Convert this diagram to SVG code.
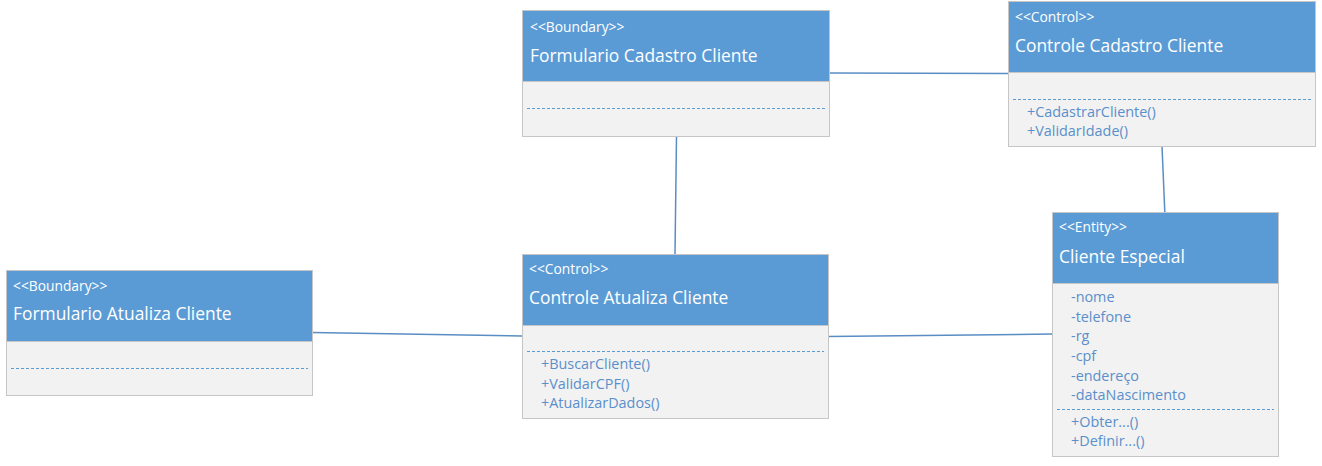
<svg xmlns="http://www.w3.org/2000/svg" width="1322" height="466" viewBox="0 0 1322 466">
<style>
.body{fill:#F2F2F2;stroke:#C6C6C6;stroke-width:1}
.head{fill:#5B9BD5;stroke:#C6C6C6;stroke-width:1}
.dash{stroke:#5B9BD5;stroke-width:1;stroke-dasharray:3 2;fill:none}
.st{font-family:"Open Sans","Noto Sans",sans-serif;font-size:13.8px;fill:#FFFFFF}
.ti{font-family:"Open Sans","Noto Sans",sans-serif;font-size:17.4px;fill:#FFFFFF}
.it{font-family:"Open Sans","Noto Sans",sans-serif;font-size:14.4px;fill:#5A8FCB}
.conn line{stroke:#5A8DC4;stroke-width:1.5;fill:none}
</style>
<rect width="1322" height="466" fill="#FFFFFF"/>
<g class="conn" id="connectors">
<line x1="829" y1="73" x2="1008" y2="73.5"/>
<line x1="676.5" y1="136" x2="675" y2="254"/>
<line x1="1162" y1="146" x2="1164.8" y2="212"/>
<line x1="312" y1="332.5" x2="522" y2="336"/>
<line x1="828" y1="336.5" x2="1052" y2="334"/>
</g>
<g id="formulario-cadastro">
<rect class="body" x="522.5" y="10.5" width="307" height="126"/>
<rect class="head" x="522.5" y="10.5" width="307" height="71"/>
<line class="dash" x1="527" y1="108.5" x2="825" y2="108.5"/>
<text class="st" x="530" y="32">&lt;&lt;Boundary&gt;&gt;</text>
<text class="ti" x="530" y="62">Formulario Cadastro Cliente</text>
</g>
<g id="controle-cadastro">
<rect class="body" x="1008.5" y="1.5" width="307" height="145"/>
<rect class="head" x="1008.5" y="1.5" width="307" height="71"/>
<line class="dash" x1="1013" y1="99.5" x2="1311" y2="99.5"/>
<text class="st" x="1015" y="22">&lt;&lt;Control&gt;&gt;</text>
<text class="ti" x="1015" y="52">Controle Cadastro Cliente</text>
<text class="it" x="1027" y="117">+CadastrarCliente()</text>
<text class="it" x="1027" y="136">+ValidarIdade()</text>
</g>
<g id="cliente-especial">
<rect class="body" x="1052.5" y="212.5" width="226" height="244"/>
<rect class="head" x="1052.5" y="212.5" width="226" height="71"/>
<line class="dash" x1="1057" y1="409.5" x2="1274" y2="409.5"/>
<text class="st" x="1059" y="232">&lt;&lt;Entity&gt;&gt;</text>
<text class="ti" x="1059" y="263">Cliente Especial</text>
<text class="it" x="1071" y="302">-nome</text>
<text class="it" x="1071" y="322">-telefone</text>
<text class="it" x="1071" y="341">-rg</text>
<text class="it" x="1071" y="361">-cpf</text>
<text class="it" x="1071" y="381">-endereço</text>
<text class="it" x="1071" y="400">-dataNascimento</text>
<text class="it" x="1071" y="427">+Obter...()</text>
<text class="it" x="1071" y="446">+Definir...()</text>
</g>
<g id="controle-atualiza">
<rect class="body" x="522.5" y="254.5" width="306" height="164"/>
<rect class="head" x="522.5" y="254.5" width="306" height="71"/>
<line class="dash" x1="527" y1="351.5" x2="824" y2="351.5"/>
<text class="st" x="529" y="274">&lt;&lt;Control&gt;&gt;</text>
<text class="ti" x="529" y="304">Controle Atualiza Cliente</text>
<text class="it" x="541" y="369">+BuscarCliente()</text>
<text class="it" x="541" y="389">+ValidarCPF()</text>
<text class="it" x="541" y="408">+AtualizarDados()</text>
</g>
<g id="formulario-atualiza">
<rect class="body" x="6.5" y="270.5" width="306" height="125"/>
<rect class="head" x="6.5" y="270.5" width="306" height="71"/>
<line class="dash" x1="11" y1="368.5" x2="308" y2="368.5"/>
<text class="st" x="13" y="291">&lt;&lt;Boundary&gt;&gt;</text>
<text class="ti" x="13" y="320">Formulario Atualiza Cliente</text>
</g>
</svg>
